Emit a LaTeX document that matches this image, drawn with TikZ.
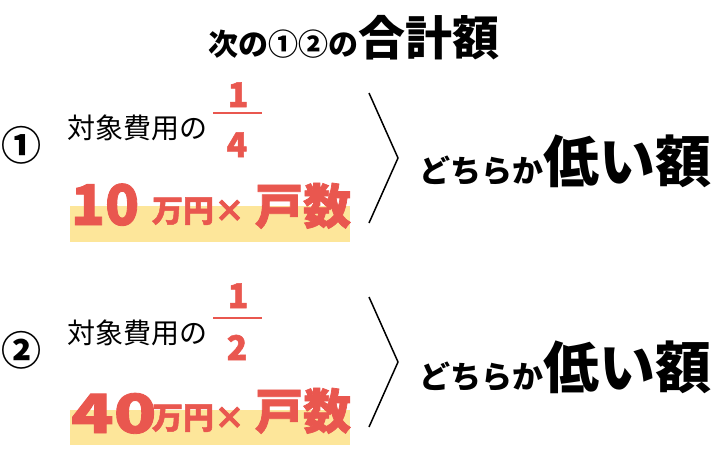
\documentclass[tikz,border=0pt]{standalone}
\usepackage{fontspec}
\usepackage{xcolor}
\usetikzlibrary{positioning}
\newfontfamily\jp{Noto Sans CJK JP}
\IfFontExistsTF{Noto Sans CJK JP Black}
  {\newfontfamily\jpblack{Noto Sans CJK JP Black}
   \newfontfamily\jpheavy{Noto Sans CJK JP Black}[FakeBold=1.5]}
  {\newfontfamily\jpblack{Noto Sans CJK JP}[UprightFont=*/B, FakeBold=1.5]
   \newfontfamily\jpheavy{Noto Sans CJK JP}[UprightFont=*/B, FakeBold=3.2]}
\newcommand{\setfs}[1]{\fontsize{#1}{#1}\selectfont}
\definecolor{notered}{HTML}{E9574F}
\definecolor{markyellow}{HTML}{FDE69A}

\begin{document}
\begin{tikzpicture}[x=1pt, y=-1pt,
  every node/.style={inner sep=0pt, outer sep=0pt, anchor=base west},
  plaintxt/.style={font=\jp\setfs{28}},
  redtxt/.style={text=notered, font=\jpblack},
  circnum/.style={anchor=center, font=\jp\bfseries\setfs{40}},
  hlbox/.style={fill=markyellow, draw=none},
  fracbar/.style={draw=notered, line width=2.6pt},
  chevron/.style={draw=black, line width=1.5pt, line join=miter}]
  \useasboundingbox (0,0) rectangle (712,458);

  % title
  \node[anchor=base, font=\jp\bfseries] (title) at (354,55) {{\setfs{30}次の①②の}{\setfs{47}合計額}};

  % first option
  \fill[hlbox] (70,206) rectangle (350,242);
  \node[circnum] (num1) at (21.5,145) {①};
  \node[plaintxt] (lbl1) at (67,138) {対象費用の};
  \node[redtxt, font=\jpheavy\setfs{34}, anchor=base] (top1) at (238,107) {1};
  \draw[fracbar] (213,113) -- (262,113);
  \node[redtxt, font=\jpheavy\setfs{34}, anchor=base] (bot1) at (237,157) {4};
  \node[redtxt, font=\jpheavy\setfs{56}] (amt1) at (71,225) {10};
  \node[redtxt, font=\jpheavy\setfs{31}] (unit1) at (152,222) {万円×};
  \node[redtxt, font=\jpheavy\setfs{48}] (cnt1) at (255,224) {戸数};
  \draw[chevron] (369,93) -- (398,158) -- (369,223);
  \node[font=\jp\bfseries\setfs{31}] (pick1) at (419,182) {どちらか};
  \node[font=\jpblack\setfs{56}, right=0pt of pick1.base east, anchor=base west] (low1) {低い額};

  % second option
  \fill[hlbox] (70,410) rectangle (350,445);
  \node[circnum] (num2) at (21.5,350) {②};
  \node[plaintxt] (lbl2) at (67,343) {対象費用の};
  \node[redtxt, font=\jpheavy\setfs{34}, anchor=base] (top2) at (238,308) {1};
  \draw[fracbar] (213,318) -- (262,318);
  \node[redtxt, font=\jpheavy\setfs{34}, anchor=base] (bot2) at (237,360) {2};
  \node[redtxt, font=\jpheavy\setfs{54}] (amt2) at (71,433) {\scalebox{1.3}[1]{40}};
  \node[redtxt, font=\jpheavy\setfs{31}] (unit2) at (152,429) {万円×};
  \node[redtxt, font=\jpheavy\setfs{48}] (cnt2) at (255,429) {戸数};
  \draw[chevron] (369,297) -- (398,362) -- (369,427);
  \node[font=\jp\bfseries\setfs{31}] (pick2) at (419,388) {どちらか};
  \node[font=\jpblack\setfs{56}, right=0pt of pick2.base east, anchor=base west] (low2) {低い額};
\end{tikzpicture}
\end{document}
